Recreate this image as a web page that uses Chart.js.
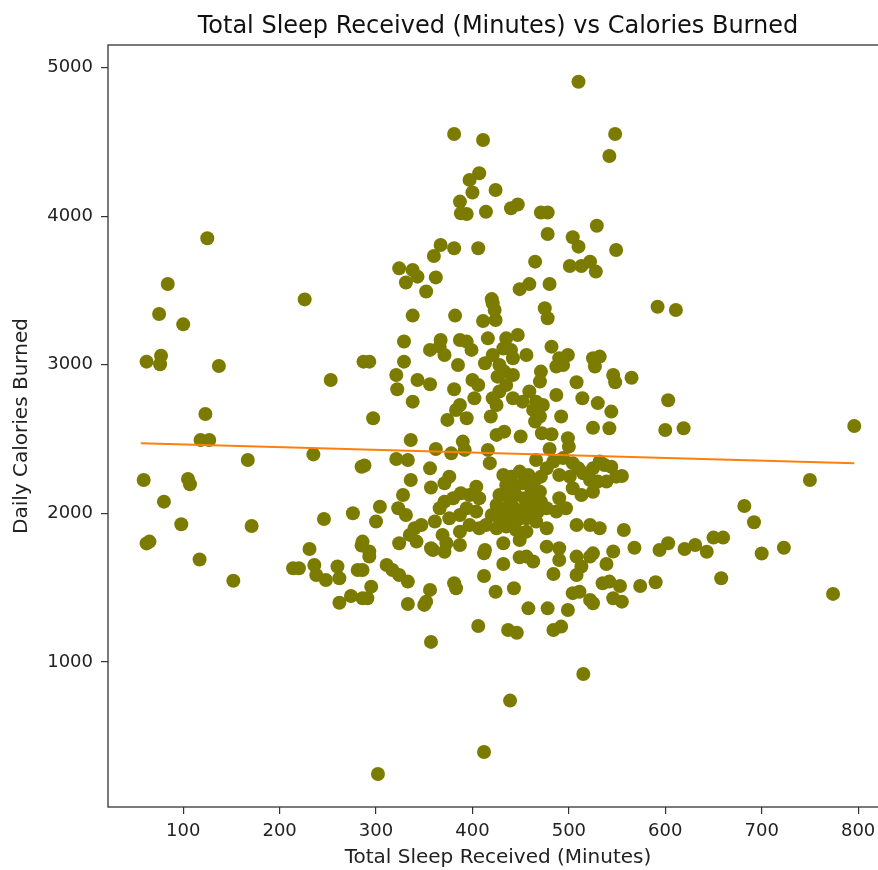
<!DOCTYPE html>
<html>
<head>
<meta charset="utf-8">
<title>Total Sleep Received vs Calories Burned</title>
<script src="https://cdn.jsdelivr.net/npm/chart.js@4.4.0/dist/chart.umd.min.js"></script>
<style>
  html, body { margin: 0; padding: 0; background: #fff; overflow: hidden; }
  #wrap { position: relative; width: 910px; height: 870px; }
</style>
</head>
<body>
<div id="wrap"><canvas id="sleepChart"></canvas></div>
<script>
// values
const sleepMinutes = [
  125, 84, 226, 510, 381, 411, 548, 542, 407, 397,
  400, 424, 387, 388, 394, 414, 440, 447, 471, 478,
  478, 529, 504, 510, 549, 367, 381, 360, 406, 324,
  338, 343, 331, 362, 352, 465, 501, 513, 522, 528,
  449, 459, 480, 420, 75, 100, 62, 77, 76, 137,
  253, 287, 123, 118, 127, 167, 235, 285, 59, 105,
  107, 80, 98, 171, 246, 276, 62, 65, 231, 285,
  117, 152, 214, 220, 236, 238, 248, 260, 262, 281,
  274, 262, 286, 302, 439, 412, 515, 357, 406, 437,
  446, 484, 492, 458, 478, 499, 333, 350, 352, 356,
  381, 383, 412, 424, 443, 412, 432, 449, 456, 463,
  490, 484, 508, 513, 508, 522, 525, 539, 535, 542,
  504, 511, 522, 525, 546, 293, 286, 295, 291, 311,
  317, 324, 333, 359, 371, 774, 658, 700, 553, 555,
  574, 590, 592, 611, 565, 603, 600, 619, 796, 555,
  750, 682, 692, 557, 568, 594, 603, 620, 631, 643,
  650, 660, 723, 338, 382, 421, 423, 411, 424, 475,
  478, 329, 293, 329, 321, 322, 297, 338, 356, 366,
  371, 367, 387, 394, 399, 385, 343, 356, 381, 400,
  406, 402, 387, 383, 394, 374, 416, 413, 435, 447,
  432, 440, 442, 456, 421, 428, 433, 426, 442, 435,
  428, 421, 425, 419, 471, 470, 482, 490, 494, 499,
  487, 508, 525, 532, 527, 546, 548, 442, 452, 459,
  466, 473, 463, 470, 465, 487, 492, 514, 530, 544,
  525, 542, 450, 425, 433, 472, 482, 499, 500, 336,
  288, 321, 333, 362, 378, 390, 392, 416, 418, 480,
  356, 336, 376, 371, 357, 466, 477, 471, 484, 494,
  504, 510, 501, 515, 525, 532, 537, 522, 530, 544,
  490,
  432, 440, 449, 458, 465, 435, 444, 452, 461, 470,
  428, 437, 445, 454, 463, 471, 425, 433, 442, 451,
  459, 468, 477, 420, 428, 439, 447, 456, 466, 414,
  425, 435, 445, 456, 404, 397, 407, 388, 380, 371,
  394, 404, 387, 376, 366, 361, 397, 407, 387, 369,
  304, 300, 328, 323, 331, 340, 335, 347, 342, 324,
  286, 293, 357, 373, 387, 413, 432, 449, 477, 490,
  497, 508, 522, 532, 546, 490, 477, 487, 504, 513,
  525, 539, 549
];
const caloriesBurned = [
  3851, 3544, 3440, 4905, 4553, 4513, 4553, 4405, 4289, 4244,
  4159, 4176, 4098, 4019, 4015, 4030, 4053, 4079, 4025, 4025,
  3880, 3936, 3858, 3795, 3772, 3806, 3784, 3732, 3784, 3649,
  3638, 3593, 3554, 3588, 3493, 3694, 3665, 3665, 3694, 3627,
  3509, 3543, 3544, 3442, 3342, 3272, 3021, 3061, 3004, 2992,
  2898, 3021, 2669, 2494, 2494, 2359, 2397, 2314, 2225, 2232,
  2196, 2079, 1927, 1915, 1962, 2001, 1798, 1810, 1760, 1783,
  1690, 1547, 1631, 1631, 1653, 1585, 1552, 1642, 1563, 1619,
  1444, 1399, 1429, 246, 740, 394, 919, 1135, 1242, 1215,
  1197, 1215, 1238, 1361, 1361, 1350, 1390, 1384, 1406, 1485,
  1530, 1496, 1579, 1473, 1496, 1731, 1659, 1705, 1709, 1676,
  1686, 1592, 1709, 1642, 1585, 1709, 1731, 1659, 1530, 1541,
  1463, 1473, 1417, 1395, 1429, 1709, 1619, 1507, 1429, 1653,
  1619, 1585, 1541, 1754, 1742, 1458, 1563, 1730, 1511, 1406,
  1511, 1536, 3391, 3369, 2913, 2761, 2561, 2573, 2588, 2252,
  2225, 2050, 1940, 1888, 1769, 1754, 1799, 1760, 1787, 1742,
  1837, 1837, 1769, 3331, 3331, 3414, 3369, 3295, 3301, 3380,
  3313, 3157, 3021, 3021, 2931, 2835, 2640, 2752, 3100, 3122,
  3066, 3167, 3167, 3156, 3100, 2999, 2898, 2869, 2835, 2898,
  2864, 2775, 2729, 2696, 2640, 2629, 3178, 3010, 3178, 3200,
  3110, 3100, 3044, 3066, 3066, 2999, 2954, 2920, 2931, 2864,
  2820, 2775, 2729, 2652, 2954, 2887, 3122, 3044, 2999, 3066,
  2988, 2882, 3044, 3055, 2988, 2931, 2882, 2775, 2752, 2820,
  2752, 2729, 2696, 2652, 2618, 2797, 2652, 2775, 2742, 2685,
  2576, 2573, 2517, 2528, 2550, 2539, 2532, 2506, 2449, 2494,
  2322, 2366, 2359, 2433, 2404, 2483, 2427, 2427, 2338, 2433,
  2303, 2225, 2247, 2203, 2174, 2359, 2303, 2247, 2349, 2372,
  2338, 2303, 2247, 2270, 2303, 2349, 2326, 2225, 2214, 2314,
  2258,
  2258, 2247, 2281, 2258, 2225, 2191, 2180, 2202, 2169, 2146,
  2124, 2113, 2124, 2102, 2090, 2079, 2057, 2034, 2045, 2023,
  2034, 2012, 2034, 1989, 1967, 1978, 1956, 1967, 1945, 1922,
  1900, 1911, 1889, 1877, 2180, 2124, 2102, 2135, 2102, 2079,
  2034, 2012, 1989, 1967, 2034, 1945, 1922, 1900, 1877, 1855,
  2045, 1945, 2124, 2034, 1989, 1900, 1855, 1922, 1810, 1799,
  1810, 1743, 1765, 1799, 1787, 1754, 1799, 1821, 1776, 2102,
  2034, 1922, 1922, 1900, 1743, 1765, 1900, 2012, 2169, 2124,
  2146, 2214, 2247
];
// fitted trend line end points
const fitX = [56, 796];
const fitY = [2472, 2338];

const xTicks = [100, 200, 300, 400, 500, 600, 700, 800];
const yTicks = [1000, 2000, 3000, 4000, 5000];

const chartTitle = 'Total Sleep Received (Minutes) vs Calories Burned';

Chart.defaults.font.family = '"DejaVu Sans", sans-serif';
Chart.defaults.color = '#222';

// matplotlib style frame round the plot area
const frameBox = {
  id: 'frameBox',
  afterDraw(chart) {
    const { ctx, chartArea: a } = chart;
    ctx.save();
    ctx.strokeStyle = '#333';
    ctx.lineWidth = 1.3;
    ctx.strokeRect(a.left, a.top, a.right - a.left, a.bottom - a.top);
    ctx.restore();
  }
};

// title centred over the plot area, not the canvas
const areaTitle = {
  id: 'areaTitle',
  afterDraw(chart) {
    const { ctx, chartArea: a } = chart;
    ctx.save();
    ctx.font = '24px "DejaVu Sans", sans-serif';
    ctx.fillStyle = '#111';
    ctx.textAlign = 'center';
    ctx.textBaseline = 'middle';
    ctx.fillText(chartTitle, (a.left + a.right) / 2, 27);
    ctx.restore();
  }
};

function createSleepScatter() {
  const ctx = document.getElementById('sleepChart').getContext('2d');
  new Chart(ctx, {
    type: 'scatter',
    data: {
      datasets: [
        {
          type: 'line',
          label: 'trend',
          data: fitX.map((x, i) => ({ x: x, y: fitY[i] })),
          borderColor: '#ff7f0e',
          borderWidth: 2,
          pointRadius: 0,
          fill: false,
          order: 0
        },
        {
          label: 'days',
          data: sleepMinutes.map((x, i) => ({ x: x, y: caloriesBurned[i] })),
          backgroundColor: '#7b7b00',
          borderWidth: 0,
          pointRadius: 7,
          pointHoverRadius: 7,
          order: 1
        }
      ]
    },
    options: {
      responsive: true,
      maintainAspectRatio: false,
      animation: false,
      events: [],
      layout: { padding: { top: 45, right: 22, left: 0, bottom: 0 } },
      plugins: {
        legend: { display: false },
        tooltip: { enabled: false },
        title: { display: false }
      },
      scales: {
        x: {
          type: 'linear',
          min: 22,
          max: 831,
          afterBuildTicks: s => { s.ticks = xTicks.map(v => ({ value: v })); },
          afterFit: s => { s.height = 63; },
          grid: { drawOnChartArea: false, tickLength: 7, color: '#333', lineWidth: 1.2 },
          border: { display: false },
          ticks: { font: { size: 18 }, color: '#222', padding: 7, callback: v => String(v) },
          title: {
            display: true,
            text: 'Total Sleep Received (Minutes)',
            font: { size: 20 },
            color: '#222',
            padding: { top: 0, bottom: 0 }
          }
        },
        y: {
          type: 'linear',
          min: 24,
          max: 5152,
          afterBuildTicks: s => { s.ticks = yTicks.map(v => ({ value: v })); },
          afterFit: s => { s.width = 108; },
          grid: { drawOnChartArea: false, tickLength: 7, color: '#333', lineWidth: 1.2 },
          border: { display: false },
          ticks: { font: { size: 18 }, color: '#222', padding: 8, callback: v => String(v) },
          title: {
            display: true,
            text: 'Daily Calories Burned',
            font: { size: 20 },
            color: '#222',
            padding: { top: 10, bottom: 0 }
          }
        }
      }
    },
    plugins: [frameBox, areaTitle]
  });
}

document.addEventListener('DOMContentLoaded', createSleepScatter);
</script>
</body>
</html>
